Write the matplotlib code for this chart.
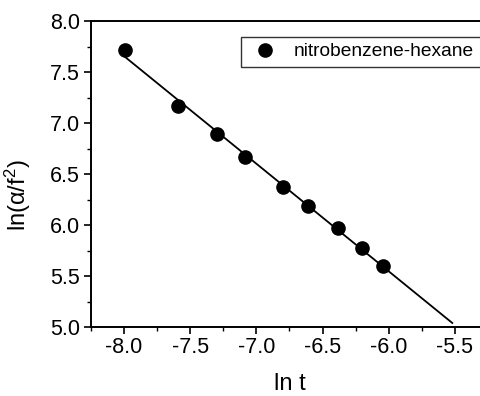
import matplotlib
matplotlib.use("Agg")
import matplotlib.pyplot as plt
import numpy as np
from matplotlib.ticker import MultipleLocator

plt.rcParams['font.family'] = ['Liberation Sans', 'DejaVu Sans']
plt.rcParams['mathtext.fontset'] = 'custom'
plt.rcParams['mathtext.rm'] = 'Liberation Sans'
plt.rcParams['mathtext.it'] = 'Liberation Sans'

# data
ln_t = [-7.99, -7.59, -7.30, -7.09, -6.80, -6.61, -6.38, -6.20, -6.04]
ln_af2 = [7.72, 7.17, 6.89, 6.67, 6.37, 6.19, 5.97, 5.77, 5.60]
fit_range = [-8.0, -5.52]
series_name = 'nitrobenzene-hexane'

fig = plt.figure(figsize=(4.81, 3.96), dpi=100)
ax = fig.add_axes([91/481, 69/396, 397/481, 306/396])

# linear fit
p = np.polyfit(ln_t, ln_af2, 1)
xf = np.array(fit_range)
ax.plot(xf, np.polyval(p, xf), color='black', lw=1.3)
ax.plot(ln_t, ln_af2, 'o', color='black', ms=9.5, label=series_name)

ax.set_xlim(-8.25, -5.25)
ax.set_ylim(5.0, 8.0)
ax.xaxis.set_major_locator(MultipleLocator(0.5))
ax.xaxis.set_minor_locator(MultipleLocator(0.25))
ax.yaxis.set_major_locator(MultipleLocator(0.5))
ax.yaxis.set_minor_locator(MultipleLocator(0.25))
ax.set_xticks([-8.0, -7.5, -7.0, -6.5, -6.0, -5.5])
ax.set_xticklabels(['-8.0', '-7.5', '-7.0', '-6.5', '-6.0', '-5.5'])
ax.tick_params(which='major', direction='out', length=5, width=1.2, labelsize=15.5)
ax.tick_params(axis='x', which='major', pad=2)
ax.tick_params(axis='y', which='major', pad=3)
ax.tick_params(which='minor', direction='out', length=3, width=1.0)
for s in ax.spines.values():
    s.set_linewidth(1.4)
ax.spines['right'].set_visible(False)

ax.set_xlabel('ln t', fontsize=17, labelpad=11)
ax.set_ylabel(r'ln($\alpha$/f$^2$)', fontsize=17)
ax.yaxis.set_label_coords(-0.146, 0.43)

# legend frame runs past the right edge of the figure, as in the original
leg = ax.legend(loc='upper left', bbox_to_anchor=(0.378, 0.948, 0.62, 0.0),
                mode='expand', fontsize=13.8,
                frameon=True, fancybox=False, edgecolor='black',
                handlelength=1.9, handletextpad=0.5, borderpad=0.32,
                borderaxespad=0)
leg.get_frame().set_linewidth(1.0)

fig.savefig('out.png', dpi=100)
